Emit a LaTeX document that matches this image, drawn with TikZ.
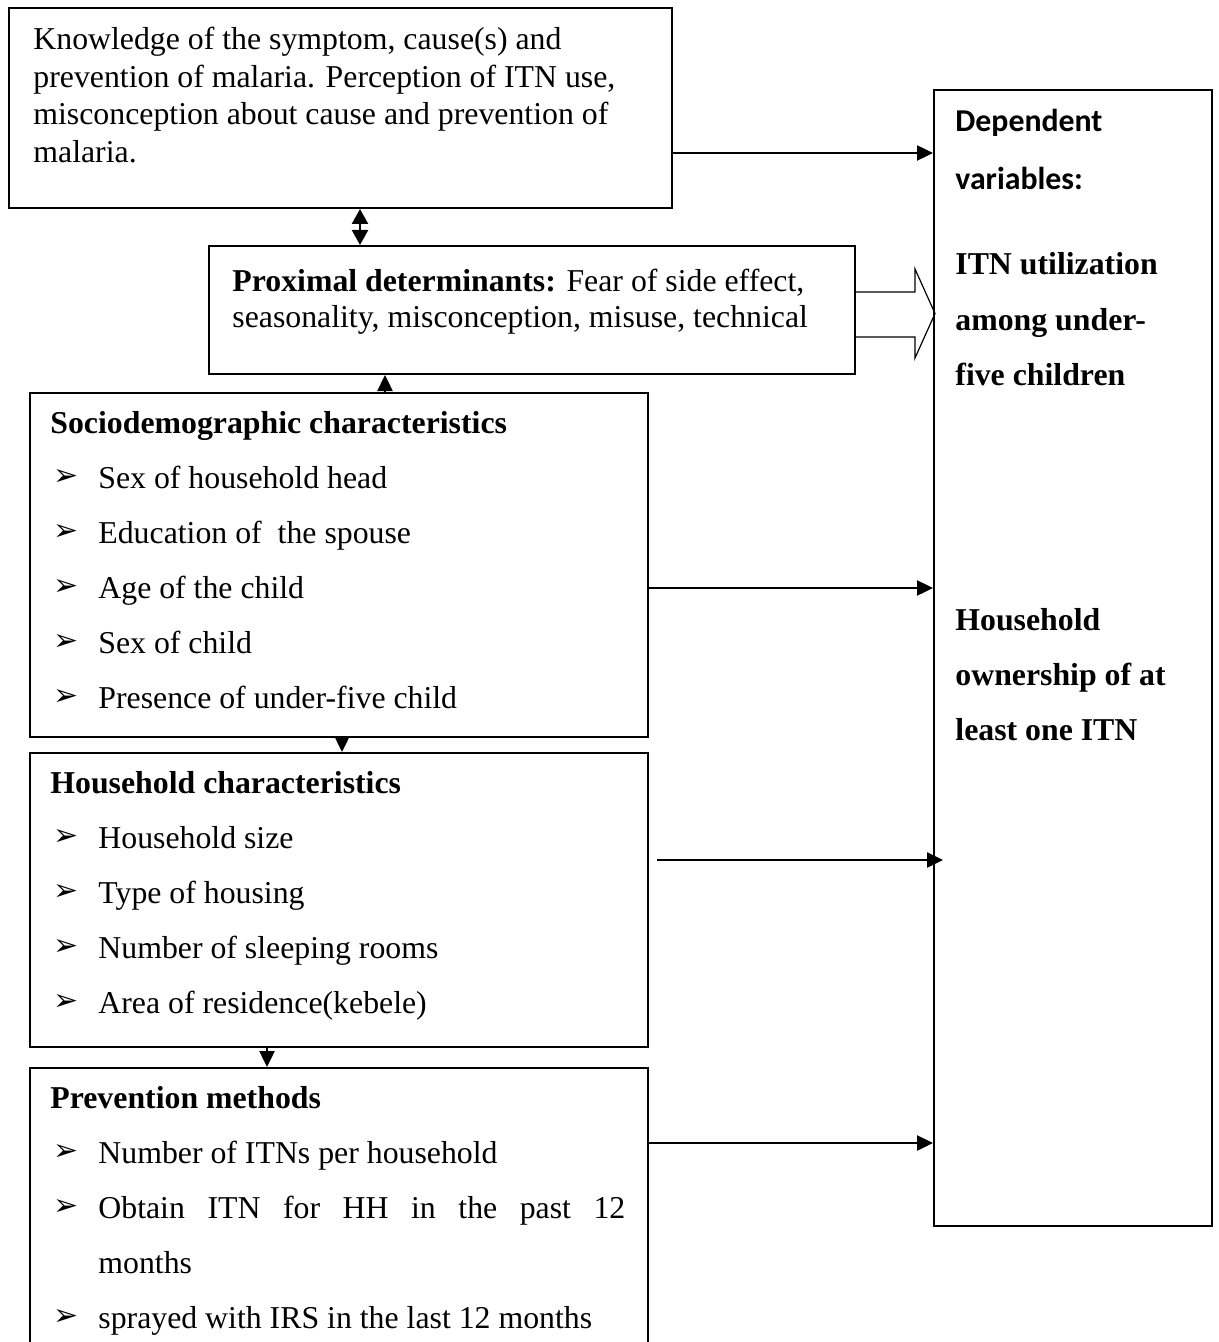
\documentclass[tikz,border=0pt]{standalone}
\usepackage{fontspec}
\setmainfont{Liberation Serif}
\newfontfamily\calfont{Carlito}
\newfontfamily\symfont{DejaVu Sans}
\usetikzlibrary{arrows.meta}
\tikzstyle{box} = [rectangle, draw, line width=1pt, inner sep=0pt, anchor=north west]
\tikzstyle{txt} = [anchor=base west, inner sep=0pt, font=\fontsize{15.9}{19}\selectfont]
\tikzstyle{arr} = [draw, -{Triangle[length=8pt,width=7.5pt]}, line width=1.2pt]
\tikzstyle{dblarr} = [draw, {Triangle[length=7.5pt,width=8pt]}-{Triangle[length=7.5pt,width=8pt]}, line width=1.2pt]
\tikzstyle{hollow} = [draw, line width=0.6pt]
\newcommand{\bul}{\makebox[22.5pt][l]{\raisebox{1.5pt}{\fontsize{15}{15}\symfont ➢}}}

\begin{document}
\begin{tikzpicture}[x=0.5pt, y=-0.5pt]

    \useasboundingbox (0,0) rectangle (1219,1342);

    % boxes
    \node [box, minimum width=331.5pt, minimum height=100pt] at (8,7) (know) {};
    \node [box, minimum width=323pt, minimum height=64pt] at (208,245) (prox) {};
    \node [box, minimum width=309pt, minimum height=172pt] at (29,392) (socio) {};
    \node [box, minimum width=309pt, minimum height=147pt] at (29,752) (house) {};
    \node [box, minimum width=309pt, minimum height=146.5pt] at (29,1067) (prev) {};
    \node [box, minimum width=139pt, minimum height=568pt] at (933,89) (dep) {};

    % knowledge
    \node [txt] at (33,50) (know1) {Knowledge of the symptom, cause(s) and};
    \node [txt] at (33,87.5) (know2) {prevention of malaria. Perception of ITN use,};
    \node [txt] at (33,125) (know3) {misconception about cause and prevention of};
    \node [txt] at (33,162.5) (know4) {malaria.};

    % proximal
    \node [txt] at (232,292) (prox1) {\textbf{Proximal determinants:} Fear of side effect,};
    \node [txt] at (232,328) (prox2) {seasonality, misconception, misuse, technical};

    % sociodemographic
    \node [txt] at (50,433) (socio0) {\textbf{Sociodemographic characteristics}};
    \node [txt] at (53,488) (socio1) {\bul Sex of household head};
    \node [txt] at (53,543) (socio2) {\bul Education of\ \ the spouse};
    \node [txt] at (53,598) (socio3) {\bul Age of the child};
    \node [txt] at (53,653) (socio4) {\bul Sex of child};
    \node [txt] at (53,708) (socio5) {\bul Presence of under-five child};

    % household
    \node [txt] at (50,793) (house0) {\textbf{Household characteristics}};
    \node [txt] at (53,848) (house1) {\bul Household size};
    \node [txt] at (53,903) (house2) {\bul Type of housing};
    \node [txt] at (53,958) (house3) {\bul Number of sleeping rooms};
    \node [txt] at (53,1013) (house4) {\bul Area of residence(kebele)};

    % prevention
    \node [txt] at (50,1108) (prev0) {\textbf{Prevention methods}};
    \node [txt] at (53,1163) (prev1) {\bul Number of ITNs per household};
    \node [txt] at (53,1218) (prev2) {\bul\makebox[263.5pt][s]{Obtain ITN for HH in the past 12}};
    \node [txt] at (98,1273) (prev3) {months};
    \node [txt] at (53,1328) (prev4) {\bul sprayed with IRS in the last 12 months};

    % dependent variables
    \node [txt, font=\fontsize{15.9}{19}\calfont\bfseries] at (955,132) (dep1) {Dependent};
    \node [txt, font=\fontsize{15.9}{19}\calfont\bfseries] at (955,190) (dep2) {variables:};
    \node [txt, font=\fontsize{15.9}{19}\selectfont\bfseries] at (955,275) (itn1) {ITN utilization};
    \node [txt, font=\fontsize{15.9}{19}\selectfont\bfseries] at (955,330) (itn2) {among under-};
    \node [txt, font=\fontsize{15.9}{19}\selectfont\bfseries] at (955,385) (itn3) {five children};
    \node [txt, font=\fontsize{15.9}{19}\selectfont\bfseries] at (955,630) (own1) {Household};
    \node [txt, font=\fontsize{15.9}{19}\selectfont\bfseries] at (955,685) (own2) {ownership of at};
    \node [txt, font=\fontsize{15.9}{19}\selectfont\bfseries] at (955,740) (own3) {least one ITN};

    % arrows between the boxes
    \coordinate (dbl) at (360,0);
    \coordinate (up) at (385,0);
    \coordinate (dn1) at (342,0);
    \coordinate (dn2) at (267,0);
    \draw [dblarr] (know.south -| dbl) -- (prox.north -| dbl);
    \draw [arr] (socio.north -| up) -- (prox.south -| up);
    \draw [arr] (socio.south -| dn1) -- (house.north -| dn1);
    \draw [arr] (house.south -| dn2) -- (prev.north -| dn2);

    % arrows to the dependent variables
    \coordinate (k) at ([yshift=-22.5pt]know.east);
    \coordinate (s) at ([yshift=-11.5pt]socio.east);
    \coordinate (h) at ([xshift=4pt, yshift=20pt]house.east);
    \coordinate (h2) at (h -| dep.west);
    \coordinate (p) at ([yshift=-38pt]prev.north east);
    \draw [arr] (k) -- (k -| dep.west);
    \draw [arr] (s) -- (s -| dep.west);
    \draw [arr] (h) -- ([xshift=5pt]h2);
    \draw [arr] (p) -- (p -| dep.west);

    % block arrow
    \draw [hollow] ([yshift=9pt]prox.east) -- ++(59,0) -- ++(0,-23) -- ++(20,44.5)
        -- ++(-20,44.5) -- ++(0,-21) -- ++(-59,0);

\end{tikzpicture}
\end{document}
